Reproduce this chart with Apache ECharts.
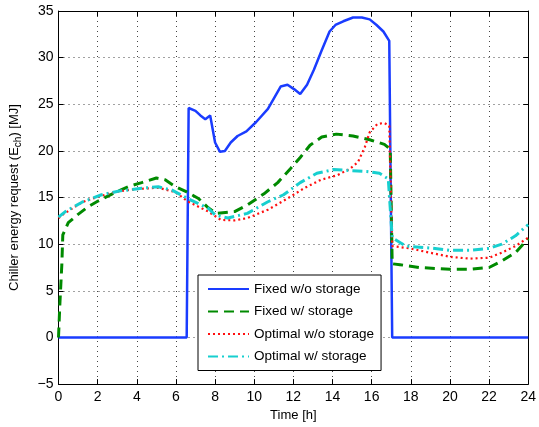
<!DOCTYPE html>
<html>
<head>
<meta charset="utf-8">
<script src="https://cdn.jsdelivr.net/npm/echarts@6/dist/echarts.min.js"></script>
<style>
  html, body { margin: 0; padding: 0; background: #fff; }
  #chart { width: 539px; height: 427px; }
</style>
</head>
<body>
<div id="chart"></div>
<script>
  // Chiller energy request over the day, four control strategies
  var seriesNames = ["Fixed w/o storage", "Fixed w/ storage", "Optimal w/o storage", "Optimal w/ storage"];

  var tFixedNo = [0, 6.55, 6.65, 7.0, 7.25, 7.5, 7.75, 8.0, 8.25, 8.5, 8.8, 9.15, 9.6, 10.1, 10.7, 11.35, 11.7, 12.05, 12.35, 12.7, 13.05, 13.45, 13.85, 14.15, 14.55, 15.05, 15.5, 15.9, 16.25, 16.6, 16.9, 17.05, 24];
  var vFixedNo = [0, 0, 24.6, 24.3, 23.8, 23.4, 23.8, 20.9, 19.9, 20.0, 20.9, 21.6, 22.1, 23.1, 24.5, 26.9, 27.1, 26.6, 26.1, 27.1, 28.7, 30.8, 32.8, 33.5, 33.9, 34.3, 34.3, 34.1, 33.5, 32.8, 31.8, 0, 0];

  var tFixedSt = [0, 0.07, 0.17, 0.22, 0.5, 1.0, 1.5, 2.0, 2.75, 3.6, 4.25, 5.0, 5.45, 5.95, 6.55, 7.15, 7.65, 8.05, 9.0, 9.65, 10.5, 11.2, 11.85, 12.35, 12.85, 13.45, 14.2, 15.05, 15.9, 16.65, 16.95, 17.05, 17.45, 18.45, 20.0, 21.0, 22.0, 22.65, 23.35, 24];
  var vFixedSt = [0, 3.6, 7.8, 11.0, 12.3, 13.2, 14.0, 14.6, 15.4, 16.2, 16.6, 17.1, 16.9, 16.2, 15.6, 14.9, 13.9, 13.3, 13.5, 14.2, 15.4, 16.6, 18.1, 19.3, 20.6, 21.5, 21.8, 21.6, 21.2, 20.7, 20.2, 7.9, 7.8, 7.5, 7.3, 7.3, 7.5, 8.2, 9.1, 10.6];

  var tOptNo = [0, 0.2, 1.2, 2.05, 2.9, 3.9, 5.1, 5.95, 6.6, 7.65, 8.3, 9.0, 9.65, 10.7, 11.7, 12.55, 13.4, 14.25, 14.9, 15.3, 15.65, 15.9, 16.3, 16.65, 16.9, 17.05, 17.95, 18.95, 20.0, 21.0, 22.0, 22.65, 23.35, 24];
  var vOptNo = [12.8, 13.15, 14.5, 15.1, 15.6, 15.9, 16.05, 15.6, 14.6, 13.5, 12.6, 12.55, 12.8, 13.7, 14.9, 16.0, 16.9, 17.4, 18.1, 18.8, 20.4, 22.0, 22.9, 23.0, 22.7, 9.8, 9.55, 9.1, 8.65, 8.45, 8.55, 9.1, 9.8, 10.7];

  var tOptSt = [0, 0.35, 1.2, 2.2, 3.1, 4.25, 5.1, 5.8, 6.6, 7.65, 8.0, 8.65, 9.65, 10.7, 11.5, 12.35, 13.2, 14.05, 14.9, 15.75, 16.4, 16.85, 17.05, 17.75, 18.95, 20.0, 21.0, 22.0, 22.65, 23.35, 24];
  var vOptSt = [12.9, 13.5, 14.5, 15.3, 15.7, 16.0, 16.15, 15.8, 14.9, 13.85, 13.15, 12.8, 13.3, 14.55, 15.3, 16.6, 17.6, 18.0, 17.9, 17.8, 17.6, 17.0, 10.7, 9.8, 9.6, 9.35, 9.35, 9.55, 10.0, 10.9, 12.1];

  var xMin = 0, xMax = 24, xStep = 2;
  var yMin = -5, yMax = 35, yStep = 5;

  function pairs(ts, vs) {
    return ts.map(function (t, i) { return [t, vs[i]]; });
  }

  var FONT = "Liberation Sans";
  var chart = echarts.init(document.getElementById("chart"), null, { renderer: "canvas" });

  var gridLine = { show: true, lineStyle: { color: "#444", width: 1, type: [1, 4] } };
  var frameLine = { show: true, onZero: false, lineStyle: { color: "#000", width: 1 } };
  var tickIn = { show: true, inside: true, length: 5, lineStyle: { color: "#000" } };

  function lineSeries(name, data, color, width, type) {
    return {
      name: name,
      type: "line",
      data: data,
      symbol: "none",
      showSymbol: false,
      animation: false,
      lineStyle: { color: color, width: width, type: type },
      itemStyle: { color: color }
    };
  }

  chart.setOption({
    backgroundColor: "#fff",
    animation: false,
    textStyle: { fontFamily: FONT },
    grid: { left: 56, right: 7, top: 11, bottom: 39 },
    legend: {
      data: seriesNames,
      orient: "vertical",
      left: 198,
      top: 275,
      padding: [7, 7, 7, 9],
      itemWidth: 41,
      itemHeight: 14,
      itemGap: 8.5,
      itemStyle: { opacity: 0 },
      backgroundColor: "#fff",
      borderColor: "#000",
      borderWidth: 1,
      textStyle: { fontFamily: FONT, fontSize: 13.5, color: "#000" }
    },
    xAxis: [
      {
        type: "value", min: xMin, max: xMax, interval: xStep,
        name: "Time [h]", nameLocation: "middle", nameGap: 24,
        nameTextStyle: { fontFamily: FONT, fontSize: 13, color: "#000" },
        axisLine: frameLine, axisTick: tickIn,
        axisLabel: { fontFamily: FONT, fontSize: 14, color: "#000", margin: 6 },
        splitLine: gridLine
      },
      {
        type: "value", position: "top", min: xMin, max: xMax, interval: xStep,
        axisLine: frameLine, axisTick: tickIn,
        axisLabel: { show: false }, splitLine: { show: false }
      }
    ],
    yAxis: [
      {
        type: "value", min: yMin, max: yMax, interval: yStep,
        name: "Chiller energy request (E{sub|ch}) [MJ]",
        nameLocation: "middle", nameRotate: 90, nameGap: 35,
        nameTextStyle: {
          fontFamily: FONT, fontSize: 13, color: "#000",
          rich: { sub: { fontFamily: FONT, fontSize: 10, color: "#000", padding: [8, 0, 0, 0] } }
        },
        axisLine: frameLine, axisTick: tickIn,
        axisLabel: {
          fontFamily: FONT, fontSize: 14, color: "#000", margin: 5,
          formatter: function (v) { return String(v).replace("-", "\u2212"); }
        },
        splitLine: gridLine
      },
      {
        type: "value", position: "right", min: yMin, max: yMax, interval: yStep,
        axisLine: frameLine, axisTick: tickIn,
        axisLabel: { show: false }, splitLine: { show: false }
      }
    ],
    series: [
      lineSeries(seriesNames[0], pairs(tFixedNo, vFixedNo), "#1a3cff", 2.5, "solid"),
      lineSeries(seriesNames[1], pairs(tFixedSt, vFixedSt), "#008a00", 3, [10, 6]),
      lineSeries(seriesNames[2], pairs(tOptNo, vOptNo), "#ff1010", 2.2, [2, 3]),
      lineSeries(seriesNames[3], pairs(tOptSt, vOptSt), "#17cfcf", 3, [10, 4, 2, 4])
    ]
  });
</script>
</body>
</html>
